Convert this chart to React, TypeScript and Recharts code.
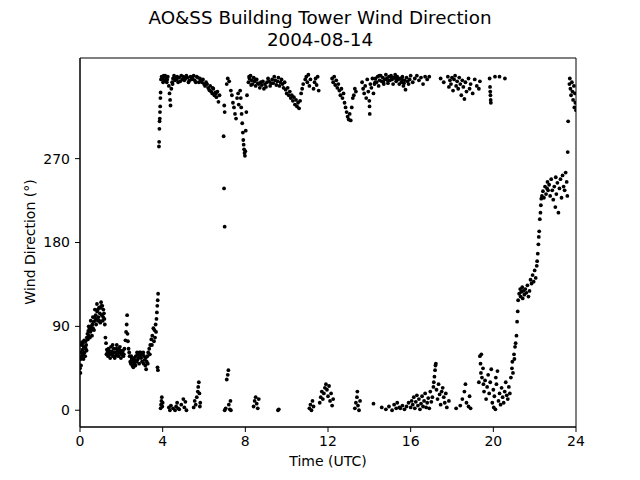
import React from 'react';
import { ScatterChart, Scatter, XAxis, YAxis, ReferenceArea } from 'recharts';

type Pt = [number, number];

// Time (UTC hours), wind direction (degrees)
const morningVeer: Pt[] = [
  [0.00,45],[0.02,40],[0.04,55],[0.06,62],[0.08,70],[0.10,73],[0.12,65],[0.15,60],[0.18,68],[0.20,75],
  [0.22,62],[0.25,58],[0.28,66],[0.30,70],[0.33,78],[0.36,82],[0.40,85],[0.43,80],[0.46,88],[0.50,84],
  [0.53,90],[0.56,86],[0.60,92],[0.63,88],[0.66,95],[0.70,100],[0.73,96],[0.76,102],[0.80,98],[0.83,106],
  [0.86,108],[0.90,100],[0.93,96],[0.96,104],[1.00,110],[1.03,112],[1.06,102],[1.10,96],[1.13,108],[1.16,104],
  [1.20,92],[1.23,78],[1.26,72],[1.30,65],[1.33,62],[1.36,58],[1.40,64],[1.43,60],[1.46,56],[1.50,68],
  [1.53,63],[1.56,60],[1.60,58],[1.63,66],[1.66,62],[1.70,58],[1.73,62],[1.76,66],[1.80,60],[1.83,64],
  [1.86,58],[1.90,62],[1.93,68],[1.96,64],[2.00,60],[2.05,62],[2.10,58],[2.15,66],[2.20,75],[2.23,84],
  [2.26,92],[2.28,102],[2.30,82],[2.32,74],[2.35,66],[2.40,58],[2.43,52],[2.46,50],[2.50,55],[2.53,48],
  [2.56,52],[2.60,56],[2.63,50],[2.66,54],[2.70,58],[2.73,52],[2.76,62],[2.80,60],[2.83,56],[2.86,50],
  [2.90,58],[2.93,62],[2.96,56],[3.00,52],[3.03,60],[3.06,62],[3.10,58],[3.13,54],[3.16,48],[3.20,44],
  [3.23,52],[3.26,58],[3.30,62],[3.35,66],[3.40,70],[3.45,76],[3.50,80],[3.55,88],[3.60,86],[3.63,78],
  [3.66,92],[3.70,98],[3.72,105],[3.74,112],[3.76,118],[3.78,125],[3.75,46],[3.77,43],
  [0.05,48],[0.09,58],[0.14,72],[0.17,55],[0.24,68],[0.27,74],[0.32,64],[0.38,76],[0.42,90],[0.48,78],
  [0.52,96],[0.58,80],[0.62,100],[0.68,86],[0.72,108],[0.78,92],[0.82,114],[0.88,96],[0.92,110],[0.98,94],
  [1.02,116],[1.08,112],[1.12,100],[1.18,98],[1.28,60],[1.38,66],[1.48,62],[1.58,70],[1.68,56],[1.78,70],
  [1.88,66],[1.98,56],[2.08,64],[2.12,60],[2.38,62],[2.48,58],[2.58,46],[2.68,48],[2.78,54],[2.88,62],
  [2.98,60],[3.08,50],[3.18,56],[3.28,50],[3.38,60],[3.48,70],[3.58,74],[3.68,84],
];

const northHighEarly: Pt[] = [
  [3.82,283],[3.83,288],[3.84,302],[3.85,310],[3.86,313],[3.87,320],[3.88,326],[3.89,335],[3.90,341],[3.92,355],
  [3.95,358],[4.00,356],[4.05,359],[4.10,354],[4.15,357],[4.20,352],[4.25,358],[4.30,348],[4.33,340],[4.36,333],
  [4.38,327],[4.42,345],[4.46,352],[4.50,356],[4.55,359],[4.60,354],[4.70,358],[4.75,352],[4.80,357],[4.90,359],
  [4.95,355],[5.00,358],[5.10,356],[5.15,359],[5.20,357],[5.30,354],[5.35,358],[5.45,356],[5.50,359],[5.60,352],
  [5.70,357],[5.80,356],[5.85,354],[5.90,352],[5.95,355],[6.00,350],[6.05,348],[6.10,352],[6.20,346],[6.25,344],
  [6.30,348],[6.35,342],[6.40,340],[6.45,345],[6.50,338],[6.55,341],[6.60,336],[6.65,342],[6.70,331],[6.75,338],
  [6.98,327],[7.00,320],[6.95,294],[6.97,238],[7.00,197],[7.10,350],[7.15,356],[7.22,353],[7.30,343],[7.35,338],
  [7.40,330],[7.45,325],[7.50,318],[7.55,313],[7.60,335],[7.65,340],[7.68,328],[7.75,343],[7.78,335],[7.80,325],
  [7.82,318],[7.85,308],[7.88,298],[7.90,290],[7.92,285],[7.94,280],[7.96,276],[7.98,273],[8.00,278],[8.02,300],
  [8.05,320],[8.08,338],
  [4.02,352],[4.12,359],[4.22,355],[4.48,350],[4.58,357],[4.68,355],[4.85,353],[5.05,354],[5.25,352],[5.40,355],
  [5.55,354],[5.65,358],[5.75,352],[6.15,350],[6.28,343],[6.42,346],[6.58,340],
];

const northHighMidday: Pt[] = [
  [8.15,352],[8.20,356],[8.25,359],[8.30,354],[8.35,350],[8.40,357],[8.45,353],[8.50,348],[8.55,355],[8.60,351],
  [8.70,346],[8.75,352],[8.80,349],[8.90,345],[8.95,350],[9.00,347],[9.05,352],[9.10,356],[9.15,353],[9.20,348],
  [9.30,355],[9.35,351],[9.40,358],[9.45,354],[9.50,349],[9.55,353],[9.60,357],[9.70,352],[9.75,355],[9.80,350],
  [9.85,346],[9.90,352],[9.95,344],[10.00,340],[10.05,346],[10.10,338],[10.15,342],[10.20,335],[10.25,338],[10.30,332],
  [10.35,336],[10.40,328],[10.45,333],[10.50,326],[10.55,330],[10.60,324],[10.65,332],[10.70,340],[10.75,345],[10.80,350],
  [10.90,355],[10.95,358],[11.00,352],[11.05,360],[11.10,348],[11.15,355],[11.30,345],[11.35,352],[11.40,356],[11.45,349],
  [11.50,358],[11.55,343],[12.20,356],[12.25,352],[12.30,358],[12.35,349],[12.40,354],[12.45,346],[12.50,350],[12.55,343],
  [12.60,338],[12.65,345],[12.70,335],[12.75,340],[12.80,330],[12.85,325],[12.90,320],[12.95,315],[13.00,312],[13.05,318],
  [13.10,311],[13.15,325],[13.20,335],[13.25,338],[13.30,345],[13.35,342],[13.65,352],[13.70,345],[13.75,340],[13.80,348],
  [13.85,335],[13.90,355],[13.95,342],[14.00,332],[14.01,326],[14.02,318],[14.05,350],[14.10,346],[14.15,356],[14.20,340],
  [14.25,350],[14.30,356],[14.35,352],[14.40,358],[14.45,348],[14.50,354],[14.55,359],[14.60,353],[14.65,357],[14.70,350],
  [14.75,355],[14.80,360],[14.85,356],[14.90,351],[14.95,358],[15.00,354],[15.05,359],[15.10,355],[15.15,350],[15.20,357],
  [15.25,360],[15.30,353],[15.35,358],[15.40,355],[15.45,350],
  [8.18,358],[8.28,349],[8.48,355],[8.65,350],[8.85,353],[9.25,351],[9.65,348],[14.28,352],[14.48,359],[14.68,352],
  [14.88,354],[15.08,357],[15.28,356],
];

const northHighLate: Pt[] = [
  [15.50,356],[15.55,352],[15.60,358],[15.65,348],[15.70,354],[15.75,344],[15.80,357],[15.90,350],[15.95,355],[16.00,359],
  [16.10,352],[16.20,356],[16.30,359],[16.40,354],[16.50,357],[16.60,350],[16.70,358],[16.80,355],[16.90,358],[17.45,356],
  [17.60,352],[17.80,358],[17.85,347],[17.90,354],[17.95,350],[18.00,357],[18.05,343],[18.10,355],[18.15,359],[18.20,348],
  [18.25,353],[18.30,345],[18.35,357],[18.40,350],[18.45,338],[18.50,354],[18.55,347],[18.60,334],[18.65,352],[18.70,342],
  [18.80,356],[18.85,345],[18.90,350],[19.00,340],[19.10,355],[19.20,348],[19.30,345],[19.35,353],[19.82,356],[19.84,347],
  [19.85,342],[19.86,338],[19.87,333],[19.88,330],[20.08,358],[20.30,358],[20.56,356],[23.60,277],[23.62,310],[23.68,350],
  [23.70,356],[23.73,345],[23.76,338],[23.80,352],[23.83,342],[23.86,333],[23.90,348],[23.92,325],[23.95,340],[23.97,330],
  [24.00,322],
  [15.58,355],[15.68,351],[15.85,353],
];

const northLowDay: Pt[] = [
  [3.90,2],[3.92,6],[3.94,10],[3.96,14],[3.98,4],[4.00,8],[4.30,3],[4.35,0],[4.40,5],[4.50,2],
  [4.60,0],[4.65,4],[4.70,8],[4.75,2],[4.80,1],[4.90,6],[5.00,12],[5.05,3],[5.10,9],[5.15,0],
  [5.50,3],[5.55,10],[5.60,6],[5.65,14],[5.70,20],[5.72,25],[5.75,30],[5.78,18],[5.80,4],[5.82,8],
  [7.00,0],[7.05,2],[7.10,33],[7.15,38],[7.18,43],[7.20,6],[7.25,1],[7.28,10],[7.30,0],[8.40,4],
  [8.45,10],[8.50,14],[8.55,7],[8.60,2],[8.65,12],[9.58,0],[9.62,1],[11.10,2],[11.15,6],[11.20,0],
  [11.25,10],[11.30,4],[11.60,8],[11.65,14],[11.70,20],[11.75,12],[11.80,18],[11.85,24],[11.90,28],[11.95,22],
  [12.00,15],[12.05,26],[12.10,10],[12.15,18],[12.20,5],[12.25,12],[13.30,2],[13.35,8],[13.40,14],[13.42,20],
  [13.45,5],[13.50,0],[13.55,10],[14.20,7],[14.60,3],[14.80,1],[14.95,4],[15.10,0],[15.20,6],[15.30,2],
  [15.35,8],[15.45,3],
];

const northLowEvening: Pt[] = [
  [15.50,2],[15.60,5],[15.70,1],[15.80,4],[15.90,8],[16.00,3],[16.05,10],[16.10,6],[16.15,14],[16.20,2],
  [16.25,9],[16.30,16],[16.35,5],[16.40,12],[16.45,1],[16.50,7],[16.55,15],[16.60,4],[16.65,10],[16.70,18],
  [16.75,3],[16.80,8],[16.85,13],[16.90,2],[16.95,20],[17.00,9],[17.05,14],[17.10,25],[17.12,30],[17.15,36],
  [17.18,43],[17.20,48],[17.22,50],[17.25,22],[17.30,12],[17.35,28],[17.40,17],[17.45,6],[17.50,20],[17.55,24],
  [17.60,14],[17.65,8],[17.70,18],[17.75,3],[17.85,10],[18.20,2],[18.40,5],[18.50,12],[18.60,20],[18.65,28],
  [18.70,8],[18.80,4],[18.85,15],[18.90,2],[19.30,30],[19.35,58],[19.38,50],[19.40,40],[19.42,60],[19.45,35],
  [19.50,45],[19.52,28],[19.55,20],[19.60,32],[19.65,12],[19.70,25],[19.75,38],[19.80,18],[19.85,30],[19.90,44],
  [19.95,8],[20.00,22],[20.02,3],[20.05,15],[20.10,1],[20.12,35],[20.15,28],[20.20,42],[20.25,10],[20.30,18],
  [20.35,6],[20.40,24],[20.45,14],[20.50,8],[20.55,20],[20.60,30],[20.65,16],[20.70,12],[20.75,25],[20.80,18],
  [20.85,35],[20.90,45],[20.92,52],[20.95,40],[21.00,60],[21.02,55],[21.05,68],[21.08,72],
];

const nightVeer: Pt[] = [
  [21.12,80],[21.15,95],[21.18,106],[21.20,118],[21.25,125],[21.30,130],[21.32,122],[21.35,127],[21.40,132],[21.42,120],
  [21.45,128],[21.50,124],[21.55,130],[21.60,126],[21.65,134],[21.70,122],[21.75,128],[21.80,140],[21.85,136],[21.90,145],
  [21.95,138],[22.00,150],[22.05,142],[22.10,155],[22.12,160],[22.15,168],[22.18,178],[22.20,186],[22.22,192],[22.25,205],
  [22.28,212],[22.30,220],[22.32,227],[22.35,230],[22.40,235],[22.45,228],[22.50,240],[22.55,232],[22.60,238],[22.62,245],
  [22.65,236],[22.70,242],[22.75,230],[22.80,248],[22.85,236],[22.90,226],[22.95,240],[23.00,218],[23.02,250],[23.05,232],
  [23.10,244],[23.15,212],[23.20,238],[23.25,248],[23.30,228],[23.35,252],[23.40,240],[23.45,236],[23.50,255],[23.55,245],
  [23.58,230],
];

const xTicks = [0, 4, 8, 12, 16, 20, 24];
const yTicks = [0, 90, 180, 270];

const titleLine1 = 'AO&SS Building Tower Wind Direction';
const titleLine2 = '2004-08-14';
const xLabel = 'Time (UTC)';
const yLabel = 'Wind Direction (°)';

const groups: Pt[][] = [morningVeer, northHighEarly, northHighMidday, northHighLate, northLowDay, northLowEvening, nightVeer];

const toData = (pts: Pt[]) => pts.map(([t, d]) => ({ t, d }));

const Dot = (props: any) => {
  if (props.cx == null || props.cy == null) return null;
  return <circle cx={props.cx} cy={props.cy} r={1.9} fill="#000" />;
};

const FONT = 'DejaVu Sans';

export default function App() {
  return (
    <div style={{ position: 'absolute', left: 0, top: 0, width: 640, height: 480, background: '#fff', fontFamily: FONT }}>
      <ScatterChart width={640} height={480} margin={{ top: 58, right: 64, bottom: 0, left: 0 }}>
        <XAxis
          dataKey="t"
          type="number"
          domain={[0, 24]}
          ticks={xTicks}
          height={53}
          tickSize={5}
          tickMargin={4}
          stroke="#000"
          tickLine={{ stroke: '#000' }}
          axisLine={{ stroke: '#000' }}
          tick={{ fill: '#000', fontSize: 14, fontFamily: FONT }}
          allowDataOverflow
        />
        <YAxis
          dataKey="d"
          type="number"
          domain={[-18, 378]}
          ticks={yTicks}
          width={80}
          tickSize={5}
          tickMargin={5}
          stroke="#000"
          tickLine={{ stroke: '#000' }}
          axisLine={{ stroke: '#000' }}
          tick={{ fill: '#000', fontSize: 14, fontFamily: FONT }}
          allowDataOverflow
        />
        <ReferenceArea x1={0} x2={24} y1={-18} y2={378} fill="none" fillOpacity={0} stroke="#000" strokeWidth={1} />
        {groups.map((g, i) => (
          <Scatter key={i} data={toData(g)} fill="#000" shape={Dot} isAnimationActive={false} />
        ))}
      </ScatterChart>
      <svg width={640} height={480} style={{ position: 'absolute', left: 0, top: 0, pointerEvents: 'none' }}>
        <text x={320} y={24} textAnchor="middle" fontSize={18.3} fontFamily={FONT} fill="#000">{titleLine1}</text>
        <text x={320} y={46} textAnchor="middle" fontSize={18.3} fontFamily={FONT} fill="#000">{titleLine2}</text>
        <text x={328} y={466} textAnchor="middle" fontSize={14} fontFamily={FONT} fill="#000">{xLabel}</text>
        <text transform="translate(35,242) rotate(-90)" textAnchor="middle" fontSize={14} fontFamily={FONT} fill="#000">{yLabel}</text>
      </svg>
    </div>
  );
}
